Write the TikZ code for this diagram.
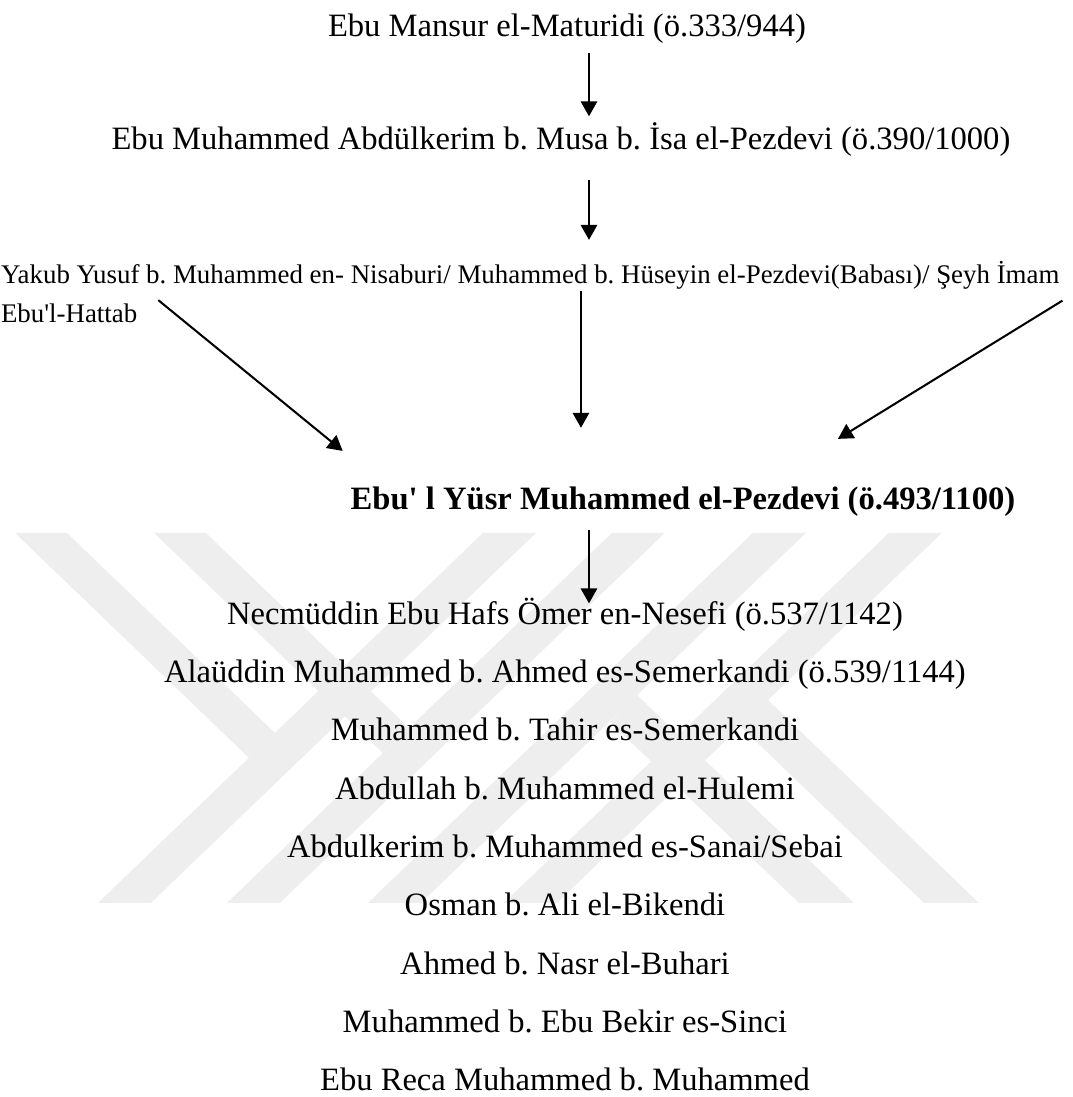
\documentclass[tikz,border=0pt]{standalone}
\usepackage{fontspec}
\setmainfont{Liberation Serif}
\usepackage{tikz}
\usetikzlibrary{arrows.meta,positioning}
\definecolor{watermark}{gray}{0.935}
\frenchspacing

\begin{document}
\begin{tikzpicture}[>={Triangle[length=5.5pt,width=6pt]}, line width=0.75pt,
	person/.style={font=\fontsize{12}{14}\selectfont, inner sep=0pt, anchor=base},
	chief/.style={person, font=\fontsize{12}{14}\selectfont\bfseries},
	teacher/.style={font=\fontsize{9.9}{12}\selectfont, inner sep=0pt, anchor=base west}]
			\useasboundingbox (0,0) rectangle (13.885,-14.196);
			
			% watermark
			\begin{scope}[x=0.01294cm, y=-0.01294cm]
			\fill[watermark] (483,533) -- (536,533) -- (151,903) -- (98,903) -- cycle;
			\fill[watermark] (612,533) -- (665,533) -- (280,903) -- (227,903) -- cycle;
			\fill[watermark] (753,533) -- (806,533) -- (421,903) -- (368,903) -- cycle;
			\fill[watermark] (889,533) -- (942,533) -- (557,903) -- (504,903) -- cycle;
			\fill[watermark] (15,533) -- (67,533) -- (275,733) -- (249,758) -- cycle;
			\fill[watermark] (154,533) -- (206,533) -- (409,728) -- (383,753) -- cycle;
			\fill[watermark] (637,695) -- (854,903) -- (799,903) -- (610,722) -- cycle;
			\fill[watermark] (768,700) -- (979,903) -- (924,903) -- (740,726) -- cycle;
			\end{scope}
			
			\node[person] (maturidi) at (7.337,-0.476) {Ebu Mansur el-Maturidi (ö.333/944)};
			\node[person] (pezdevi) [below=1.464cm of maturidi.base, anchor=base, xshift=-0.078cm] {Ebu Muhammed Abdülkerim b. Musa b. İsa el-Pezdevi (ö.390/1000)};
			\node[teacher] (hocalar) at (0,-3.675) {Yakub Yusuf b. Muhammed en- Nisaburi/ Muhammed b. Hüseyin el-Pezdevi(Babası)/ Şeyh İmam};
			\node[teacher] (hattab) [below=0.492cm of hocalar.base west, anchor=base west] {Ebu\textquotesingle l-Hattab};
			\node[chief] (yusr) at (8.838,-6.587) {Ebu\textquotesingle{} l Yüsr Muhammed el-Pezdevi (ö.493/1100)};
			\node[person] (nesefi) at (7.311,-8.075) {Necmüddin Ebu Hafs Ömer en-Nesefi (ö.537/1142)};
			\node[person] (semerkandi) [below=0.755cm of nesefi.base, anchor=base] {Alaüddin Muhammed b. Ahmed es-Semerkandi (ö.539/1144)};
			\node[person] (tahir) [below=0.755cm of semerkandi.base, anchor=base] {Muhammed b. Tahir es-Semerkandi};
			\node[person] (hulemi) [below=0.755cm of tahir.base, anchor=base] {Abdullah b. Muhammed el-Hulemi};
			\node[person] (sanai) [below=0.755cm of hulemi.base, anchor=base] {Abdulkerim b. Muhammed es-Sanai/Sebai};
			\node[person] (bikendi) [below=0.755cm of sanai.base, anchor=base] {Osman b. Ali el-Bikendi};
			\node[person] (buhari) [below=0.755cm of bikendi.base, anchor=base] {Ahmed b. Nasr el-Buhari};
			\node[person] (sinci) [below=0.755cm of buhari.base, anchor=base] {Muhammed b. Ebu Bekir es-Sinci};
			\node[person] (reca) [below=0.755cm of sinci.base, anchor=base] {Ebu Reca Muhammed b. Muhammed};
			
			\coordinate (spine) at (7.622,0);
			\draw[->, shorten <=3.1pt, shorten >=2.1pt] (maturidi.south -| spine) -- (pezdevi.north -| spine);
			\draw[->, shorten <=8.2pt, shorten >=7.7pt] (pezdevi.south -| spine) -- (hocalar.north -| spine);
			\draw[->] ([xshift=0.259cm,yshift=0.164cm]hattab.east) -- ([xshift=-0.091cm,yshift=0.446cm]yusr.north west);
			\draw[->, shorten >=21.2pt] ([xshift=-0.104cm]hocalar.south -| spine) -- ([xshift=-0.104cm]yusr.north -| spine);
			\draw[->] ([xshift=0.026cm,yshift=-0.321cm]hocalar.east) -- ([xshift=2.006cm,yshift=0.602cm]yusr.north);
			\draw[->, shorten <=4.9pt, shorten >=-2.5pt] (yusr.south -| spine) -- (nesefi.north -| spine);
\end{tikzpicture}
\end{document}
